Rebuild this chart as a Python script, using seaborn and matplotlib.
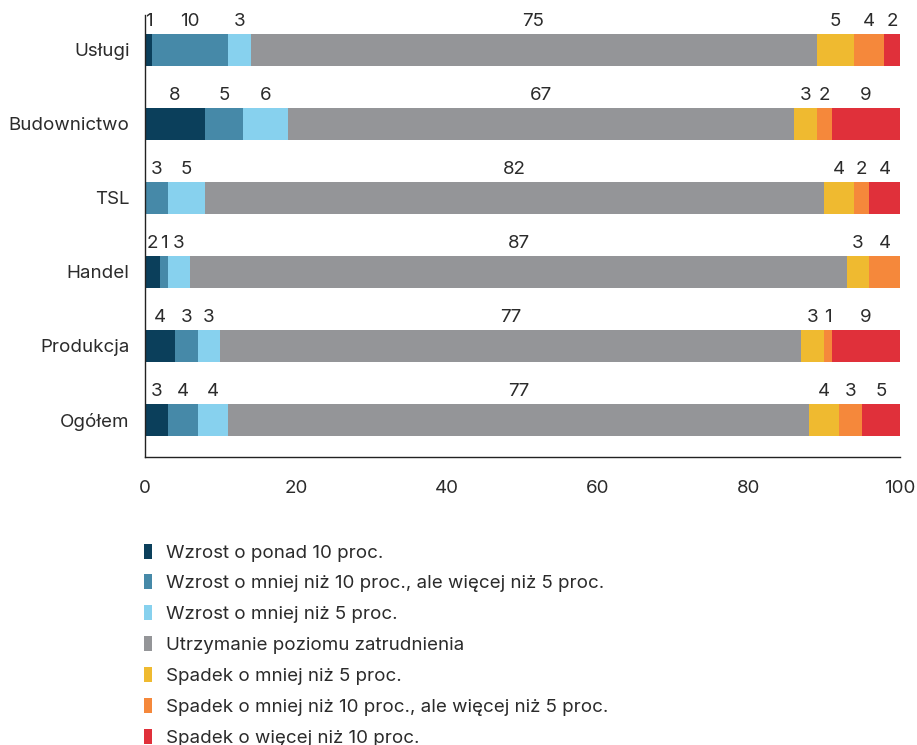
import numpy as np
import pandas as pd
import matplotlib
matplotlib.use('Agg')
import matplotlib.pyplot as plt
from matplotlib.patches import Patch
import seaborn as sns

categories = ['Usługi', 'Budownictwo', 'TSL', 'Handel', 'Produkcja', 'Ogółem']
series = ['Wzrost o ponad 10 proc.',
          'Wzrost o mniej niż 10 proc., ale więcej niż 5 proc.',
          'Wzrost o mniej niż 5 proc.',
          'Utrzymanie poziomu zatrudnienia',
          'Spadek o mniej niż 5 proc.',
          'Spadek o mniej niż 10 proc., ale więcej niż 5 proc.',
          'Spadek o więcej niż 10 proc.']
wzrost_10 = [1, 8, 0, 2, 4, 3]
wzrost_5_10 = [10, 5, 3, 1, 3, 4]
wzrost_5 = [3, 6, 5, 3, 3, 4]
utrzymanie = [75, 67, 82, 87, 77, 77]
spadek_5 = [5, 3, 4, 3, 3, 4]
spadek_5_10 = [4, 2, 2, 4, 1, 3]
spadek_10 = [2, 9, 4, 0, 9, 5]
colors = ['#0b3f5b', '#4689a8', '#87d1ee', '#949598', '#efba30', '#f5883b', '#e0303a']

sns.set_style('white')
plt.rcParams['font.family'] = ['Inter', 'DejaVu Sans']
text_color = '#2b2b2b'
fs = 13.5

df = pd.DataFrame(dict(zip(series, [wzrost_10, wzrost_5_10, wzrost_5, utrzymanie,
                                    spadek_5, spadek_5_10, spadek_10])), index=categories)
cum = df.cumsum(axis=1)

fig = plt.figure(figsize=(9.17, 7.45), dpi=100)
ax = fig.add_axes([0.158, 0.387, 0.823, 0.593])

# draw cumulative totals from the last series back, so each bar covers the next
for j in range(len(series) - 1, -1, -1):
    sns.barplot(x=cum.iloc[:, j].values, y=categories, orient='h', color=colors[j],
                width=0.43, linewidth=0, saturation=1, ax=ax)

for i, cat in enumerate(categories):
    start = 0
    for j, s in enumerate(series):
        v = df.loc[cat, s]
        if v > 0:
            ax.text(start + v / 2, i - 0.27, str(v), ha='center', va='bottom',
                    fontsize=fs, color=text_color)
        start += v

ax.set_xlim(0, 100)
ax.set_ylim(5.5, -0.47)
ax.set_xticks([0, 20, 40, 60, 80, 100])
ax.set_xlabel('')
ax.set_ylabel('')
ax.tick_params(axis='both', length=0, labelsize=fs, colors=text_color)
ax.tick_params(axis='x', pad=17)
ax.tick_params(axis='y', pad=11)
for side in ['top', 'right']:
    ax.spines[side].set_visible(False)
for side in ['left', 'bottom']:
    ax.spines[side].set_color('#222222')
    ax.spines[side].set_linewidth(1)

handles = [Patch(facecolor=c, edgecolor='none') for c in colors]
fig.legend(handles, series, loc='upper left', bbox_to_anchor=(0.139, 0.293),
           frameon=False, fontsize=fs, handlelength=0.43, handleheight=0.85,
           handletextpad=0.75, labelspacing=0.69, labelcolor=text_color)

fig.savefig('out.png', dpi=100)
